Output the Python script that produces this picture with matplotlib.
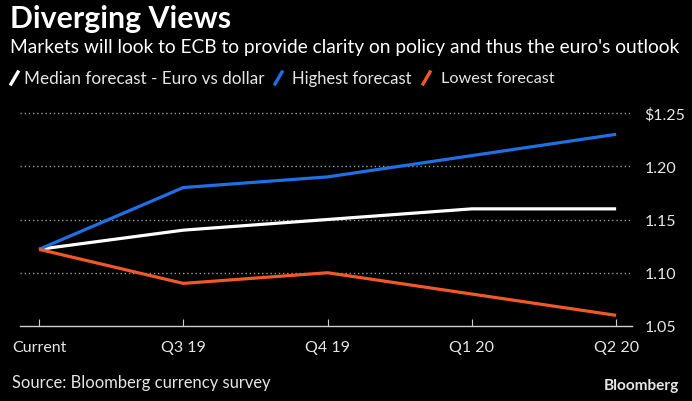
import matplotlib
matplotlib.use("Agg")
import matplotlib.pyplot as plt
from matplotlib.lines import Line2D

# ---------- data ----------
quarters = ["Current", "Q3 19", "Q4 19", "Q1 20", "Q2 20"]
median   = [1.122, 1.14, 1.15, 1.16, 1.16]
highest  = [1.122, 1.18, 1.19, 1.21, 1.23]
lowest   = [1.122, 1.09, 1.10, 1.08, 1.06]
yticks   = [1.05, 1.10, 1.15, 1.20, 1.25]
ytick_labels = ["1.05", "1.10", "1.15", "1.20", "$1.25"]

BG     = "black"
WHITE  = "white"
BLUE   = "#1f6fe5"
ORANGE = "#f0582a"
TXT    = "#e6e6e6"

plt.rcParams["font.family"] = ["Lato", "DejaVu Sans"]

W, H = 692, 402
fig = plt.figure(figsize=(W / 100, H / 100), dpi=100, facecolor=BG)
ax = fig.add_axes([20 / W, (H - 327) / H, (632 - 20) / W, 213 / H], facecolor=BG)

x = list(range(len(quarters)))
ax.plot(x, median, color=WHITE, lw=2.3, solid_capstyle="butt", zorder=3)
ax.plot(x, highest, color=BLUE, lw=2.3, solid_capstyle="butt", zorder=3)
ax.plot(x, lowest, color=ORANGE, lw=2.3, solid_capstyle="butt", zorder=3)

ax.set_xlim(-0.132, 4.11)
ax.set_ylim(1.05, 1.25)
ax.set_xticks(x)
ax.set_xticklabels(quarters)
ax.set_yticks(yticks)
ax.set_yticklabels(ytick_labels)
ax.yaxis.tick_right()
for v in yticks[1:]:
    ax.axhline(v, color="#9a9a9a", lw=1, ls=(0, (1, 2)), zorder=1, clip_on=False)

for s in ["top", "left", "right"]:
    ax.spines[s].set_visible(False)
ax.spines["bottom"].set_color("#cfcfcf")
ax.spines["bottom"].set_linewidth(1)
ax.tick_params(axis="x", colors="#cfcfcf", length=5, direction="in", pad=10,
               labelcolor=TXT, labelsize=11.5)
ax.tick_params(axis="y", length=0, pad=9, labelcolor=TXT, labelsize=11.5)

renderer = fig.canvas.get_renderer()

def fit(t, width_px):
    # scale font so the text spans the same width as in the reference
    bb = t.get_window_extent(renderer)
    t.set_fontsize(t.get_fontsize() * width_px / bb.width)

# titles
t = fig.text(10 / W, 1 - 19 / H, "Diverging Views", color=WHITE, fontsize=19,
             fontweight="bold", va="center", ha="left")
fit(t, 220)
t = fig.text(10 / W, 1 - 48 / H, "Markets will look to ECB to provide clarity on policy and thus the euro's outlook",
             color=WHITE, fontsize=14, va="center", ha="left")
fit(t, 673)

# legend
legend_items = [("Median forecast - Euro vs dollar", WHITE, 11, 24, 239),
                ("Highest forecast", BLUE, 275, 292, 119),
                ("Lowest forecast", ORANGE, 423, 441, 114)]
for label, col, xs, xt, wt in legend_items:
    fig.add_artist(Line2D([xs / W, (xs + 7) / W], [1 - 85 / H, 1 - 73 / H],
                          color=col, lw=2.4, transform=fig.transFigure))
    t = fig.text(xt / W, 1 - 79 / H, label, color=TXT, fontsize=12,
                 va="center", ha="left")
    fit(t, wt)

t = fig.text(12 / W, 1 - 383 / H, "Source: Bloomberg currency survey", color=TXT,
             fontsize=12, va="center", ha="left")
fit(t, 259)
t = fig.text(679 / W, 1 - 386 / H, "Bloomberg", color=TXT, fontsize=11,
             fontweight="bold", va="center", ha="right")
fit(t, 75)

fig.savefig("out.png", dpi=100, facecolor=BG)
